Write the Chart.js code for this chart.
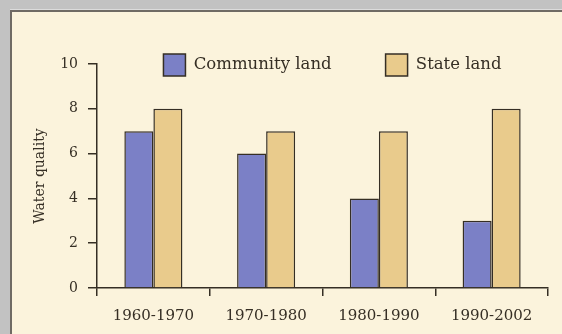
<!DOCTYPE html>
<html lang="en">
<head>
  <meta charset="UTF-8" />
  <title>Water quality</title>
  <style>
    body {
      margin: 0;
      width: 562px;
      height: 334px;
      overflow: hidden;
      background-color: #c2c2c2;
    }
    .panel {
      position: absolute;
      left: 10px;
      top: 10px;
      width: 560px;
      height: 330px;
      background-color: #fbf3dc;
      border-left: 2px solid #6f6a64;
      border-top: 2px solid #6f6a64;
      box-shadow: 0 -1px 0 #dcdcdc;
    }
    #waterChart {
      position: absolute;
      left: 0;
      top: 0;
    }
  </style>
</head>
<body>
  <div class="panel"></div>
  <canvas id="waterChart" width="562" height="334"></canvas>

  <script src="https://cdn.jsdelivr.net/npm/chart.js"></script>
  <script>
    const periods = ['1960-1970', '1970-1980', '1980-1990', '1990-2002'];
    const communityLand = [7, 6, 4, 3];
    const stateLand = [8, 7, 7, 8];
    const yTicks = [0, 2, 4, 6, 8, 10];

    const ink = '#352e24';
    Chart.defaults.font.family = "'DejaVu Serif', serif";
    Chart.defaults.color = ink;

    // legend sits inside the plot, a little right of centre;
    // its box is grown downwards so the clip doesn't cut the labels
    const legendNudge = {
      id: 'legendNudge',
      afterLayout(chart) {
        const lg = chart.legend;
        lg.left += 10;
        lg.right += 10;
        lg.bottom = lg.top + 90;
      }
    };

    new Chart(document.getElementById('waterChart').getContext('2d'), {
      type: 'bar',
      data: {
        labels: periods,
        datasets: [{
          label: 'Community land',
          data: communityLand,
          backgroundColor: '#7b80c6',
          borderColor: ink,
          borderWidth: 1.5
        }, {
          label: 'State land',
          data: stateLand,
          backgroundColor: '#e9cb8c',
          borderColor: ink,
          borderWidth: 1.5
        }]
      },
      options: {
        responsive: false,
        animation: false,
        layout: { padding: { left: 28, right: 14, top: 0, bottom: 0 } },
        datasets: {
          bar: { categoryPercentage: 0.515, barPercentage: 1.0 }
        },
        plugins: {
          legend: {
            position: 'top',
            fullSize: false,
            maxHeight: 64,
            labels: {
              boxWidth: 22,
              boxHeight: 22,
              padding: 54,
              color: ink,
              font: { size: 16.5 }
            }
          },
          tooltip: { enabled: false }
        },
        scales: {
          x: {
            offset: true,
            afterFit(scale) { scale.height = 46; },
            grid: {
              offset: true,
              drawOnChartArea: false,
              tickLength: 8,
              color: ink,
              lineWidth: 1.5
            },
            border: { color: ink, width: 1.5 },
            ticks: { color: ink, padding: 11, font: { size: 15 } }
          },
          y: {
            min: 0,
            max: 10,
            afterFit(scale) { scale.width = 69; },
            afterBuildTicks(scale) {
              scale.ticks = yTicks.map(v => ({ value: v }));
            },
            title: {
              display: true,
              text: 'Water quality',
              color: ink,
              font: { size: 14 }
            },
            grid: {
              drawOnChartArea: false,
              tickLength: 9,
              color: ink,
              lineWidth: 1.5
            },
            border: { color: ink, width: 1.5 },
            ticks: { color: ink, padding: 10, font: { size: 14 } }
          }
        }
      },
      plugins: [legendNudge]
    });
  </script>
</body>
</html>
